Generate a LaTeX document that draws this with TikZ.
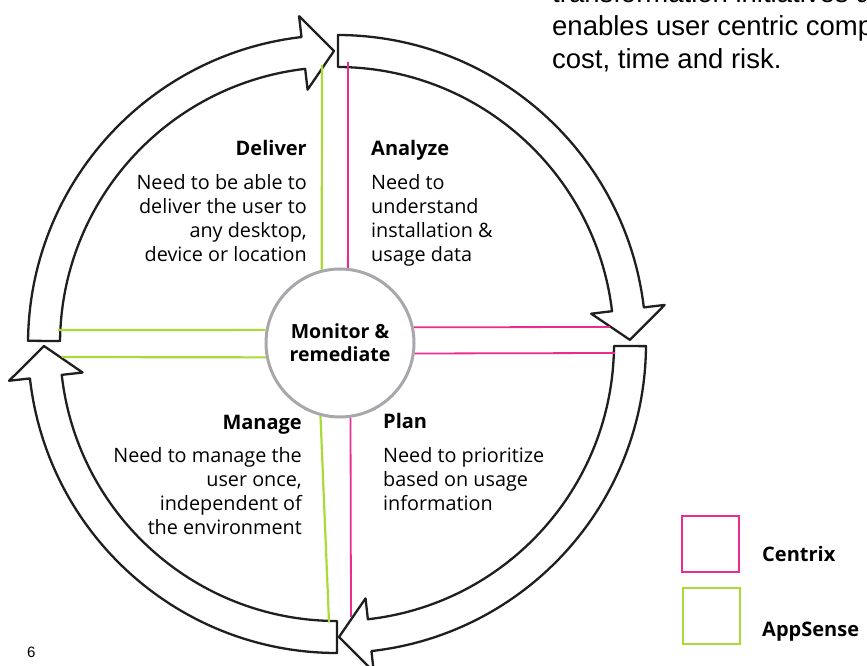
\documentclass[tikz,border=0pt]{standalone}
\usepackage{fontspec}
\setmainfont{Open Sans}
\newfontfamily\helv{Liberation Sans}
\usetikzlibrary{positioning}

\definecolor{centrixpink}{RGB}{233,44,142}
\definecolor{appsensegreen}{RGB}{170,218,56}
\definecolor{ringgrey}{RGB}{168,168,172}

% one quarter of the cycle: tail angle, tip angle (clockwise)
\newcommand{\cyclearrow}[2]{%
  \pgfmathsetmacro{\neck}{#2+6}%
  \draw[cycle arrow] (#1:309pt) arc[start angle=#1, end angle=\neck, radius=309pt]
    -- (\neck:330pt) -- (#2:293pt) -- (\neck:256pt) -- (\neck:277pt)
    arc[start angle=\neck, end angle=#1, radius=277pt] -- cycle;}

\begin{document}
\begin{tikzpicture}[x=1pt,y=1pt,
  cycle arrow/.style={draw=black!88,fill=white,line width=2.3pt,line join=round},
  head/.style={font=\fontsize{20}{24}\selectfont\bfseries,inner sep=0pt},
  body/.style={font=\fontsize{19.8}{24}\selectfont,inner sep=0pt},
  monitor/.style={circle,draw=ringgrey,line width=3pt,fill=white,minimum size=148pt,inner sep=0pt,align=center,font=\fontsize{19.5}{23}\selectfont\bfseries},
  pink line/.style={centrixpink,line width=1.8pt},
  green line/.style={appsensegreen,line width=2.2pt},
  legend box/.style={line width=2pt,minimum width=57pt,minimum height=56pt,inner sep=0pt}]
  \path[use as bounding box,clip] (0,0) rectangle (867,666);

  % the four arrows of the cycle
  \begin{scope}[shift={(337,322)}]
    \cyclearrow{179.4}{90.6}
    \cyclearrow{89.8}{0.8}
    \cyclearrow{-0.4}{-89.6}
    \cyclearrow{-90}{-179.6}
  \end{scope}

  \node[monitor] (mon) at (340,323) {Monitor \&\\remediate};

  % ends of the coloured lines
  \coordinate (gtop) at (322,601);
  \coordinate (ptop) at (348,604);
  \coordinate (pright1) at (610,339);
  \coordinate (pright2) at (615,313);
  \coordinate (gleft1) at (58,336);
  \coordinate (gleft2) at (62,309);
  \coordinate (gbot) at (329,44);
  \coordinate (pbot) at (351,49);

  \draw[green line] (mon.104) -- (gtop);
  \draw[pink line] (mon.84) -- (ptop);
  \draw[pink line] (mon.12) -- (pright1);
  \draw[pink line] (mon.-8) -- (pright2);
  \draw[green line] (mon.170) -- (gleft1);
  \draw[green line] (mon.191) -- (gleft2);
  \draw[green line] (mon.255) -- (gbot);
  \draw[pink line] (mon.278) -- (pbot);

  % quadrant texts (base = last line)
  \node[head,anchor=base east] (deliver) at (307,510) {Deliver};
  \node[body,align=right,anchor=base east] (deliverbody) at ([yshift=-106pt]deliver.base east)
    {Need to be able to\\deliver the user to\\any desktop,\\device or location};
  \node[head,anchor=base west] (analyze) at (371,510) {Analyze};
  \node[body,align=left,anchor=base west] (analyzebody) at ([yshift=-106pt]analyze.base west)
    {Need to\\understand\\installation \&\\usage data};
  \node[head,anchor=base east] (manage) at (302,236) {Manage};
  \node[body,align=right,anchor=base east] (managebody) at ([yshift=-105pt]manage.base east)
    {Need to manage the\\user once,\\independent of\\the environment};
  \node[head,anchor=base west] (plan) at (383,237) {Plan};
  \node[body,align=left,anchor=base west] (planbody) at ([yshift=-82pt]plan.base west)
    {Need to prioritize\\based on usage\\information};

  % running text and page number
  \node[anchor=base west,inner sep=0pt,align=left,font=\helv\fontsize{27.5}{33}\selectfont] (intro) at (552,597)
    {transformation initiatives a\\enables user centric comp\\cost, time and risk.};
  \node[anchor=base west,inner sep=0pt,font=\helv\fontsize{15}{18}\selectfont] (page) at (27,8) {6};

  % legend
  \node[legend box,draw=centrixpink] (centrixbox) at (710.5,121.5) {};
  \node[legend box,draw=appsensegreen] (appsensebox) at (711,50) {};
  \node[head,anchor=base west] (centrix) at (762,104) {Centrix};
  \node[head,anchor=base west] (appsense) at (762,29) {AppSense};
\end{tikzpicture}
\end{document}
